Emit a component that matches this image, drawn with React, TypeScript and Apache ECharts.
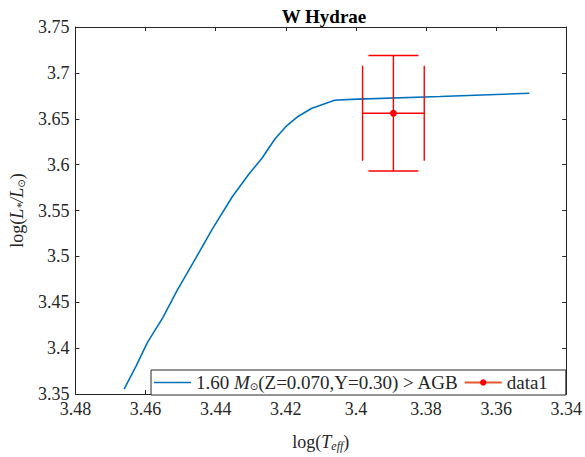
import React, { useEffect, useRef } from "react";
import * as echarts from "echarts";

// Evolutionary track (log Teff, log L)
const trackTeff = [3.4661, 3.4627, 3.4594, 3.4551, 3.4509, 3.4457, 3.4410, 3.4353, 3.4306, 3.4268, 3.4231, 3.4200, 3.4165, 3.4127, 3.4061, 3.4014, 3.376, 3.3505];
const trackLum = [3.3553, 3.3803, 3.4066, 3.4330, 3.4635, 3.4979, 3.5295, 3.5647, 3.5893, 3.6069, 3.6279, 3.6413, 3.6525, 3.6612, 3.6701, 3.6711, 3.6743, 3.6778];

// Observed star with error bars
const starTeff = [3.3893];
const starLum = [3.656];
const starTeffErr = [0.0088];
const starLumErr = [0.063];

const trackName = "1.60 M(Z=0.070,Y=0.30) > AGB";
const starName = "data1";

const FONT = "'Liberation Serif', 'DejaVu Serif', serif";
const AX = "#262626";

export default function App() {
  const ref = useRef<HTMLDivElement>(null);
  useEffect(() => {
    document.body.style.margin = "0";
    const chart = echarts.init(ref.current!, null, { renderer: "svg" });
    const trackData = trackTeff.map((x, i) => [x, trackLum[i]]);
    const starData = starTeff.map((x, i) => [x, starLum[i]]);
    const errData = starTeff.map((x, i) => [x, starLum[i], starTeffErr[i], starLumErr[i]]);
    const fmt = (v: number) => String(parseFloat(v.toFixed(2)));
    const xBase = {
      type: "value",
      min: 3.34,
      max: 3.48,
      interval: 0.02,
      inverse: true,
      splitLine: { show: false },
      axisLine: { show: true, onZero: false, lineStyle: { color: AX, width: 1 } },
      axisTick: { show: true, inside: true, length: 4, lineStyle: { color: AX } },
    };
    const yBase = {
      type: "value",
      min: 3.35,
      max: 3.75,
      interval: 0.05,
      splitLine: { show: false },
      axisLine: { show: true, onZero: false, lineStyle: { color: AX, width: 1 } },
      axisTick: { show: true, inside: true, length: 4, lineStyle: { color: AX } },
    };
    const mkRich = (fs: number) => ({
      i: { fontFamily: FONT, fontSize: fs, fontStyle: "italic", color: AX },
      s: { fontFamily: FONT, fontSize: 12, fontStyle: "italic", color: AX, padding: [8, 0, 0, 0] },
      o: { fontFamily: "'DejaVu Sans', sans-serif", fontSize: 10, color: AX, padding: [8, 0, 0, 0] },
      r: { fontFamily: FONT, fontSize: fs, color: AX },
    });
    const labelStyle = { fontFamily: FONT, fontSize: 18, color: AX, margin: 6, formatter: fmt };
    chart.setOption({
      animation: false,
      backgroundColor: "#fff",
      title: {
        text: "W Hydrae",
        left: 319,
        textAlign: "center",
        top: 2,
        textStyle: { fontFamily: FONT, fontSize: 19, fontWeight: "bold", color: "#000" },
      },
      grid: { left: 72, right: 18, top: 27, bottom: 50 },
      legend: {
        left: 151,
        top: 370,
        orient: "horizontal",
        backgroundColor: "#fff",
        borderColor: AX,
        borderWidth: 1,
        borderRadius: 0,
        padding: [3, 18, 3, 3],
        itemWidth: 37,
        itemHeight: 8,
        itemGap: 5,
        data: [
          { name: trackName, icon: "path://M0,0 L37,0 L37,1.5 L0,1.5 Z" },
          { name: starName },
        ],
        textStyle: { fontFamily: FONT, fontSize: 19, color: AX, rich: mkRich(19) },
        formatter: (name: string) =>
          name === trackName ? "{r|1.60 }{i|M}{o|\u2299}{r|(Z=0.070,Y=0.30) > AGB}" : "{r|data1}",
      },
      xAxis: [
        {
          ...xBase,
          position: "bottom",
          name: "log({i|T}{s|eff})",
          nameLocation: "middle",
          nameGap: 38,
          nameTextStyle: { fontFamily: FONT, fontSize: 18, color: AX, rich: mkRich(18) },
          axisLabel: labelStyle,
        },
        { ...xBase, position: "top", axisLabel: { show: false } },
      ],
      yAxis: [
        {
          ...yBase,
          position: "left",
          name: "log({i|L}{s|*}{i|/L}{o|\u2299})",
          nameLocation: "middle",
          nameRotate: 90,
          nameGap: 46,
          nameTextStyle: { fontFamily: FONT, fontSize: 18, color: AX, rich: mkRich(18) },
          axisLabel: labelStyle,
        },
        { ...yBase, position: "right", axisLabel: { show: false } },
      ],
      series: [
        {
          name: trackName,
          type: "line",
          data: trackData,
          showSymbol: false,
          symbol: "none",
          lineStyle: { color: "#0072BD", width: 1.6 },
          itemStyle: { color: "#0072BD" },
          z: 2,
        },
        {
          name: starName + "_err",
          type: "custom",
          data: errData,
          renderItem: (params: any, api: any) => {
            const x = api.value(0);
            const y = api.value(1);
            const dx = api.value(2);
            const dy = api.value(3);
            const c = api.coord([x, y]);
            const top = api.coord([x, y + dy]);
            const bot = api.coord([x, y - dy]);
            const l = api.coord([x + dx, y]);
            const r = api.coord([x - dx, y]);
            const st = { stroke: "#ff0000", lineWidth: 1.4 };
            const capW = 25;
            const capH = 47.5;
            const line = (x1: number, y1: number, x2: number, y2: number) => ({
              type: "line",
              shape: { x1, y1, x2, y2 },
              style: st,
            });
            return {
              type: "group",
              children: [
                line(c[0], top[1], c[0], bot[1]),
                line(c[0] - capW, top[1], c[0] + capW, top[1]),
                line(c[0] - capW, bot[1], c[0] + capW, bot[1]),
                line(l[0], c[1], r[0], c[1]),
                line(l[0], c[1] - capH, l[0], c[1] + capH),
                line(r[0], c[1] - capH, r[0], c[1] + capH),
              ],
            };
          },
          z: 3,
        },
        {
          name: starName,
          type: "line",
          data: starData,
          symbol: "circle",
          symbolSize: 7,
          showSymbol: true,
          itemStyle: { color: "#ff0000" },
          lineStyle: { color: "#e4572e", width: 1.5 },
          z: 4,
        },
      ],
    });
    return () => chart.dispose();
  }, []);
  return <div ref={ref} style={{ width: 585, height: 457 }} />;
}
